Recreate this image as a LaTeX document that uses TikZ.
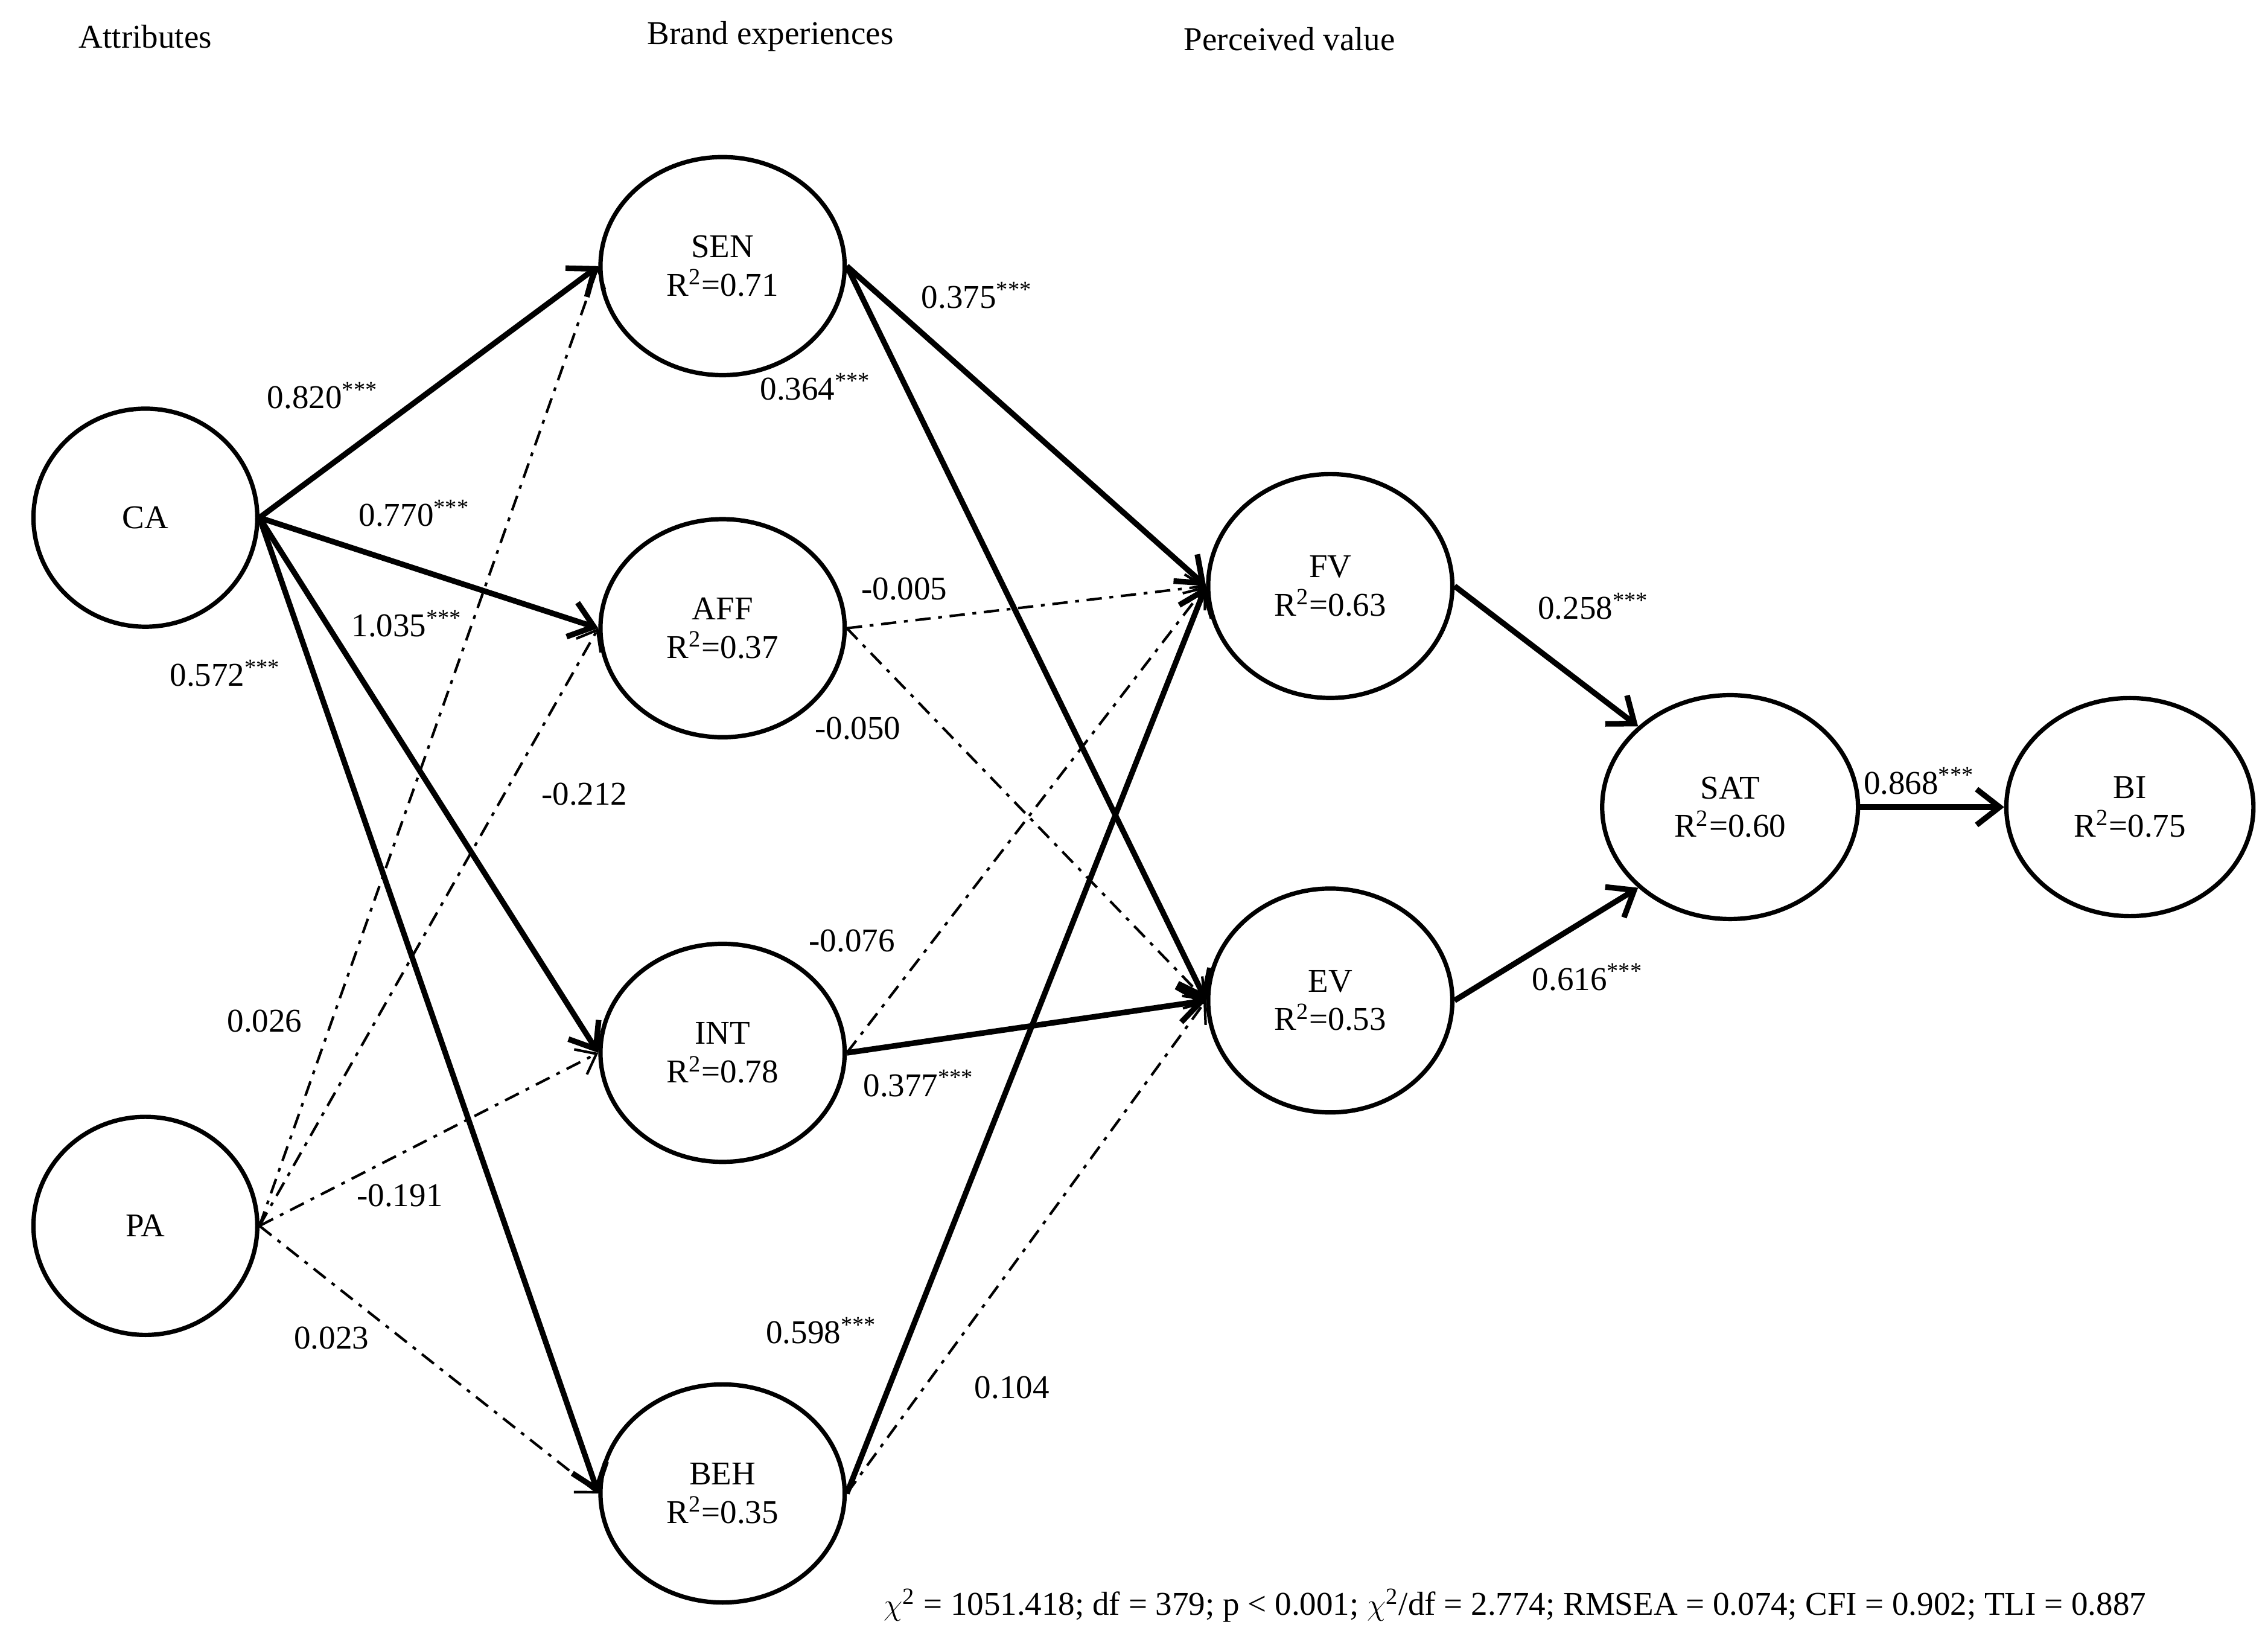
\documentclass[tikz,border=0pt]{standalone}
\usepackage{fontspec}
\setmainfont{Liberation Serif}
\usetikzlibrary{shapes.geometric,arrows.meta}
\begin{document}
\begin{tikzpicture}[x=0.02cm,y=-0.02cm,font=\fontsize{13}{15}\selectfont,
  lat/.style={ellipse,draw,line width=1.7pt,minimum width=168\pgflinewidth,inner sep=0pt,align=center},
  big/.style={lat,minimum width=3.36cm,minimum height=3.0cm},
  thick arr/.style={line width=2.2pt,-{Straight Barb[length=9pt,width=14pt,line width=2.2pt]}},
  thin arr/.style={line width=1pt,dash pattern=on 6pt off 3pt on 1.5pt off 3pt,-{Straight Barb[length=7pt,width=11pt]}},
  lab/.style={inner sep=1pt}]
\useasboundingbox (0,0) rectangle (1560,1135);
\node[lat,minimum width=3.08cm,minimum height=3.0cm] (CA) at (100,356) {CA};
\node[lat,minimum width=3.08cm,minimum height=3.0cm] (PA) at (100,843) {PA};
\node[big] (SEN) at (497,183) {SEN\\R\textsuperscript{2}=0.71};
\node[big] (AFF) at (497,432) {AFF\\R\textsuperscript{2}=0.37};
\node[big] (INT) at (497,724) {INT\\R\textsuperscript{2}=0.78};
\node[big] (BEH) at (497,1027) {BEH\\R\textsuperscript{2}=0.35};
\node[big,minimum height=3.08cm] (FV) at (915,403) {FV\\R\textsuperscript{2}=0.63};
\node[big,minimum height=3.08cm] (EV) at (915,688) {EV\\R\textsuperscript{2}=0.53};
\node[lat,minimum width=3.52cm,minimum height=3.08cm] (SAT) at (1190,555) {SAT\\R\textsuperscript{2}=0.60};
\node[lat,minimum width=3.4cm,minimum height=3.0cm] (BI) at (1465,555) {BI\\R\textsuperscript{2}=0.75};
\node (t1) at (100,25) {Attributes};
\node (t2) at (530,25) {Brand experiences};
\node (t3) at (887,27) {Perceived value};
\draw[thick arr] (CA.east) -- (SEN.west);
\draw[thick arr] (CA.east) -- (AFF.west);
\draw[thick arr] (CA.east) -- (INT.west);
\draw[thick arr] (CA.east) -- (BEH.west);
\draw[thin arr] (PA.east) -- (SEN.west);
\draw[thin arr] (PA.east) -- (AFF.west);
\draw[thin arr] (PA.east) -- (INT.west);
\draw[thin arr] (PA.east) -- (BEH.west);
\draw[thick arr] (SEN.east) -- (FV.west);
\draw[thick arr] (SEN.east) -- (EV.west);
\draw[thin arr] (AFF.east) -- (FV.west);
\draw[thin arr] (AFF.east) -- (EV.west);
\draw[thin arr] (INT.east) -- (FV.west);
\draw[thick arr] (INT.east) -- (EV.west);
\draw[thick arr] (BEH.east) -- (FV.west);
\draw[thin arr] (BEH.east) -- (EV.west);
\draw[thick arr] (FV.east) -- (SAT.north west);
\draw[thick arr] (EV.east) -- (SAT.south west);
\draw[thick arr] (SAT.east) -- (BI.west);
\node[lab] (l1) at (222,272) {0.820\textsuperscript{***}};
\node[lab] (l2) at (285,353) {0.770\textsuperscript{***}};
\node[lab] (l3) at (280,429) {1.035\textsuperscript{***}};
\node[lab] (l4) at (155,463) {0.572\textsuperscript{***}};
\node[lab] (l5) at (672,203) {0.375\textsuperscript{***}};
\node[lab] (l6) at (561,266) {0.364\textsuperscript{***}};
\node[lab] (l7) at (622,405) {-0.005};
\node[lab] (l8) at (590,501) {-0.050};
\node[lab] (l9) at (402,546) {-0.212};
\node[lab] (l10) at (182,702) {0.026};
\node[lab] (l11) at (586,647) {-0.076};
\node[lab] (l12) at (632,745) {0.377\textsuperscript{***}};
\node[lab] (l13) at (275,822) {-0.191};
\node[lab] (l14) at (228,920) {0.023};
\node[lab] (l15) at (565,915) {0.598\textsuperscript{***}};
\node[lab] (l16) at (696,954) {0.104};
\node[lab] (l17) at (1096,417) {0.258\textsuperscript{***}};
\node[lab] (l18) at (1092,672) {0.616\textsuperscript{***}};
\node[lab] (l19) at (1320,537) {0.868\textsuperscript{***}};
\node[lab] (fit) at (1042,1104) {$\chi$\textsuperscript{2} = 1051.418; df = 379; p < 0.001; $\chi$\textsuperscript{2}/df = 2.774; RMSEA = 0.074; CFI = 0.902; TLI = 0.887};
\end{tikzpicture}
\end{document}
